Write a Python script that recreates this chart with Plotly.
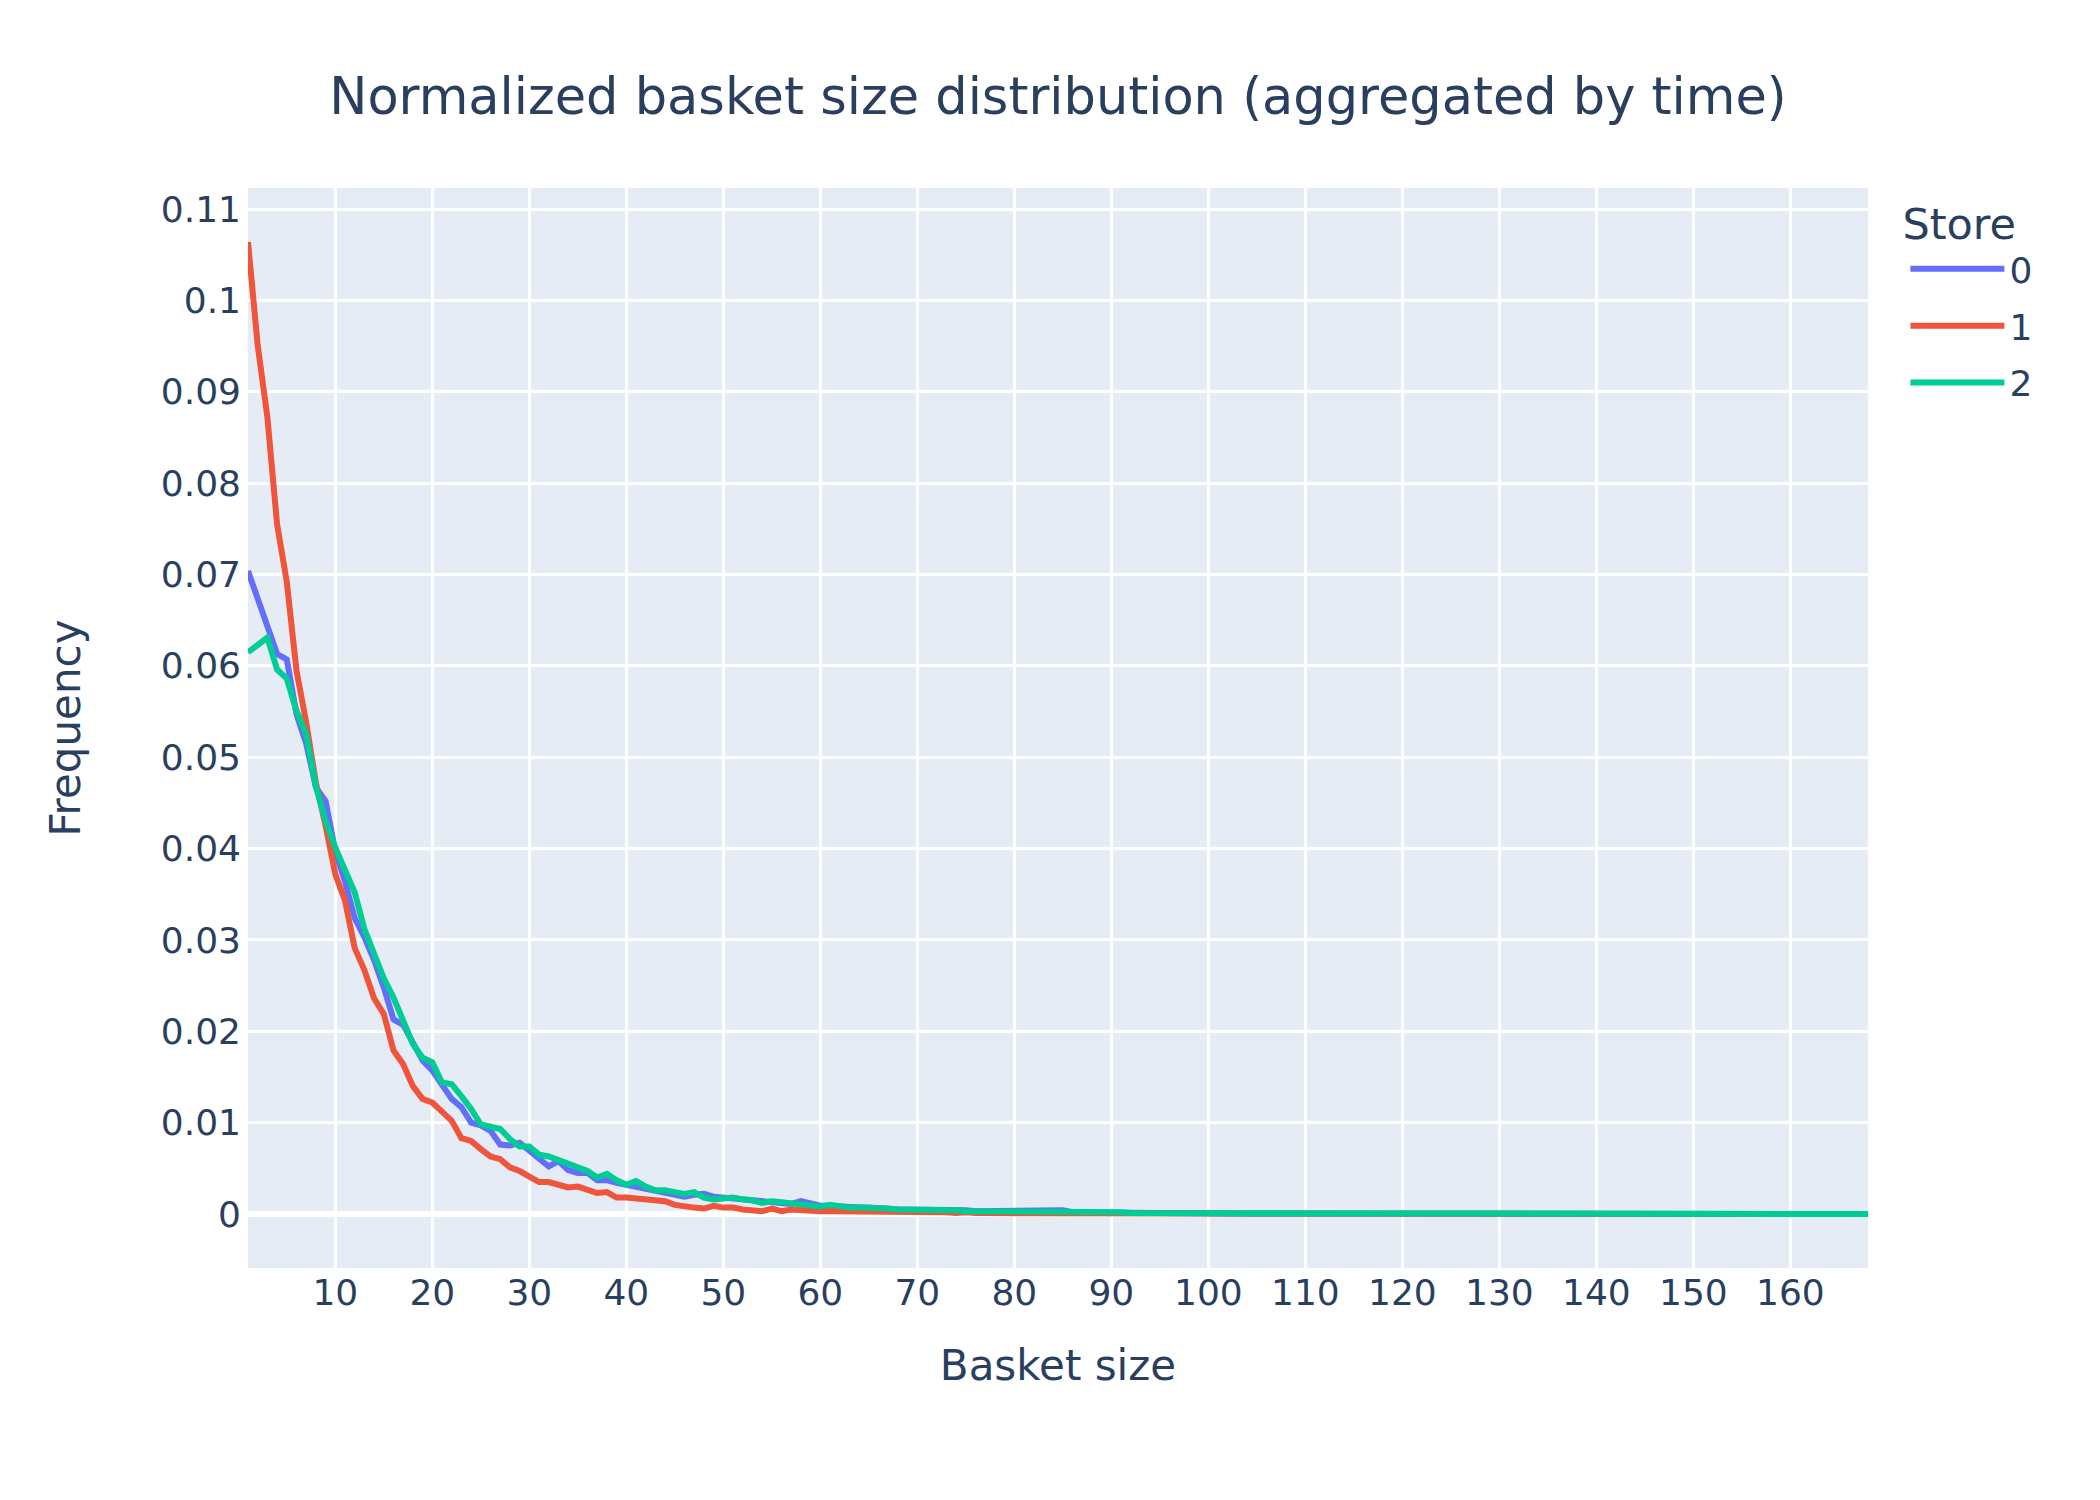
#!/usr/bin/env python3
"""Normalized basket size distribution per store, aggregated over time."""
from __future__ import annotations

import plotly.graph_objects as go

# basket sizes 1..168
BASKET_SIZES = list(range(1, 169))

STORES = ["0", "1", "2"]
COLORS = ["#636efa", "#EF553B", "#00cc96"]

STORE_0 = [
    0.0704, 0.0675, 0.0645, 0.0613, 0.0607, 0.0547, 0.0515, 0.0467, 0.0452, 0.0397,
    0.0364, 0.0324, 0.0303, 0.0278, 0.0248, 0.0213, 0.0207, 0.0186, 0.0168, 0.0157,
    0.0142, 0.0126, 0.0117, 0.0100, 0.0097, 0.0091, 0.0076, 0.0075, 0.0078, 0.0069,
    0.0062, 0.0052, 0.0058, 0.0048, 0.0045, 0.0045, 0.0037, 0.0037, 0.0034, 0.0032,
    0.0029, 0.0028, 0.0025, 0.0023, 0.0022, 0.0019, 0.0021, 0.0022, 0.0019, 0.0018,
    0.0016, 0.0016, 0.0015, 0.0014, 0.0013, 0.0012, 0.0011, 0.0014, 0.0011, 0.0009,
    0.0009, 0.0008, 0.0007, 0.0007, 0.0007, 0.0006, 0.0006, 0.0005, 0.0005, 0.0005,
    0.0005, 0.0004, 0.0004, 0.0004, 0.0004, 0.0003, 0.0003, 0.0003, 0.0003, 0.0003,
    0.0003, 0.0003, 0.0003, 0.0003, 0.0004, 0.0002, 0.0002, 0.0002, 0.0001, 0.0001,
    0.0001, 0.0001, 0.0001, 0.00008, 0.00008, 0.00007, 0.00006, 0.00006, 0.00005, 0.00005,
    0.00005, 0.00004, 0.00004, 0.00004, 0.00003, 0.00003, 0.00003, 0.00003, 0.00002, 0.00003,
    0.00002, 0.00002, 0.00002, 0.00002, 0.00002, 0.00001, 0.00002, 0.00001, 0.00001, 0.00001,
    0.00001, 0.00002, 0.00001, 0.00001, 0.00001, 0.0, 0.00001, 0.00001, 0.0, 0.00001,
    0.00001, 0.0, 0.00001, 0.0, 0.0, 0.00001, 0.0, 0.0, 0.00001, 0.0,
    0.0, 0.0, 0.00001, 0.0, 0.0, 0.0, 0.0, 0.00001, 0.0, 0.0,
    0.0, 0.0, 0.0, 0.0, 0.00001, 0.0, 0.0, 0.0, 0.0, 0.0,
    0.0, 0.0, 0.0, 0.0, 0.0, 0.0, 0.0, 0.0,
]

STORE_1 = [
    0.1064, 0.0951, 0.0872, 0.0755, 0.0692, 0.0595, 0.0538, 0.0472, 0.0425, 0.0372,
    0.0343, 0.0291, 0.0267, 0.0236, 0.0219, 0.0179, 0.0164, 0.0140, 0.0126, 0.0122,
    0.0112, 0.0102, 0.0083, 0.0080, 0.0071, 0.0063, 0.0060, 0.0051, 0.0047, 0.0041,
    0.0035, 0.0035, 0.0032, 0.0029, 0.0030, 0.0027, 0.0023, 0.0024, 0.0018, 0.0018,
    0.0017, 0.0016, 0.0015, 0.0014, 0.0010, 0.0008, 0.0007, 0.0006, 0.0009, 0.0007,
    0.0007, 0.0005, 0.0004, 0.0003, 0.0006, 0.0003, 0.0005, 0.0004, 0.0003, 0.0003,
    0.0003, 0.0003, 0.0003, 0.0003, 0.0003, 0.0002, 0.0002, 0.0002, 0.0002, 0.0002,
    0.0002, 0.0002, 0.0002, 0.0001, 0.0002, 0.0001, 0.0001, 0.0001, 0.0001, 0.0001,
    0.0001, 0.0001, 0.00008, 0.00008, 0.00007, 0.00007, 0.00006, 0.00006, 0.00005, 0.00005,
    0.00004, 0.00004, 0.00004, 0.00003, 0.00003, 0.00003, 0.00002, 0.00003, 0.00002, 0.00002,
    0.00002, 0.00002, 0.00001, 0.00002, 0.00001, 0.00001, 0.00001, 0.00001, 0.0, 0.00001,
    0.00001, 0.0, 0.00001, 0.0, 0.0, 0.00001, 0.0, 0.0, 0.0, 0.00001,
    0.0, 0.0, 0.0, 0.0, 0.0, 0.0, 0.00001, 0.0, 0.0, 0.0,
    0.0, 0.0, 0.0, 0.0, 0.0, 0.0, 0.0, 0.0, 0.0, 0.0,
    0.0, 0.0, 0.0, 0.0, 0.0, 0.0, 0.0, 0.0, 0.0, 0.0,
    0.0, 0.0, 0.0, 0.0, 0.0, 0.0, 0.0, 0.0, 0.0, 0.0,
    0.0, 0.0, 0.0, 0.0, 0.0, 0.0, 0.0, 0.0,
]

STORE_2 = [
    0.0615, 0.0623, 0.0631, 0.0596, 0.0586, 0.0551, 0.0525, 0.0468, 0.0430, 0.0401,
    0.0378, 0.0352, 0.0312, 0.0285, 0.0258, 0.0237, 0.0212, 0.0186, 0.0171, 0.0166,
    0.0144, 0.0142, 0.0129, 0.0115, 0.0098, 0.0096, 0.0093, 0.0082, 0.0074, 0.0074,
    0.0065, 0.0063, 0.0059, 0.0054, 0.0051, 0.0047, 0.0040, 0.0044, 0.0037, 0.0032,
    0.0036, 0.0030, 0.0026, 0.0026, 0.0024, 0.0022, 0.0024, 0.0018, 0.0016, 0.0017,
    0.0018, 0.0016, 0.0015, 0.0012, 0.0014, 0.0013, 0.0012, 0.0011, 0.0009, 0.0008,
    0.0010, 0.0008, 0.0007, 0.0007, 0.0007, 0.0006, 0.0006, 0.0005, 0.0005, 0.0004,
    0.0004, 0.0004, 0.0004, 0.0004, 0.0003, 0.0003, 0.0003, 0.0003, 0.0003, 0.0003,
    0.0003, 0.0002, 0.0002, 0.0002, 0.0002, 0.0002, 0.0002, 0.0002, 0.0002, 0.0003,
    0.0002, 0.0001, 0.0001, 0.0001, 0.00008, 0.00007, 0.00007, 0.00006, 0.00005, 0.00005,
    0.00004, 0.00004, 0.00004, 0.00003, 0.00003, 0.00003, 0.00002, 0.00002, 0.00002, 0.00002,
    0.00002, 0.00001, 0.00002, 0.00001, 0.00001, 0.00001, 0.00001, 0.0, 0.00001, 0.00001,
    0.0, 0.00001, 0.0, 0.00001, 0.0, 0.0, 0.00001, 0.0, 0.0, 0.0,
    0.00001, 0.0, 0.0, 0.0, 0.0, 0.00001, 0.0, 0.0, 0.0, 0.0,
    0.0, 0.0, 0.0, 0.0, 0.0, 0.0, 0.00001, 0.0, 0.0, 0.0,
    0.0, 0.0, 0.0, 0.0, 0.0, 0.0, 0.0, 0.0, 0.0, 0.0,
    0.0, 0.0, 0.0, 0.0, 0.0, 0.0, 0.0, 0.0,
]

# the original was a 700x500 px express chart exported at 3x
S = 3


def _create_figure() -> go.Figure:
    fig = go.Figure()
    for name, values, color in zip(STORES, [STORE_0, STORE_1, STORE_2], COLORS):
        fig.add_trace(go.Scatter(
            x=BASKET_SIZES[:len(values)], y=values, mode="lines", name=name,
            legendgroup=name,
            line=dict(color=color, width=2 * S),
        ))
    fig.update_layout(
        width=700 * S, height=500 * S,
        template="plotly",
        font=dict(family="DejaVu Sans, Verdana, sans-serif", size=12 * S, color="#2a3f5f"),
        title=dict(
            text="Normalized basket size distribution (aggregated by time)",
            x=0.5, xanchor="center", y=0.941, yanchor="middle",
            font=dict(size=17 * S),
        ),
        margin=dict(l=80 * S, r=80 * S, t=60 * S, b=80 * S),
        legend=dict(
            title=dict(text="Store"), y=1.0046, tracegroupgap=7,
            itemwidth=94, indentation=5,
        ),
        xaxis=dict(
            title=dict(text="Basket size", font=dict(size=14 * S), standoff=38),
            gridwidth=S, zerolinewidth=2 * S, dtick=10,
        ),
        yaxis=dict(
            title=dict(text="Frequency", font=dict(size=14 * S), standoff=67),
            gridwidth=S, zerolinewidth=2 * S, dtick=0.01, ticklabelstandoff=6,
        ),
    )
    return fig


def main() -> None:
    fig = _create_figure()
    fig.write_html("out.html")


if __name__ == "__main__":
    main()
